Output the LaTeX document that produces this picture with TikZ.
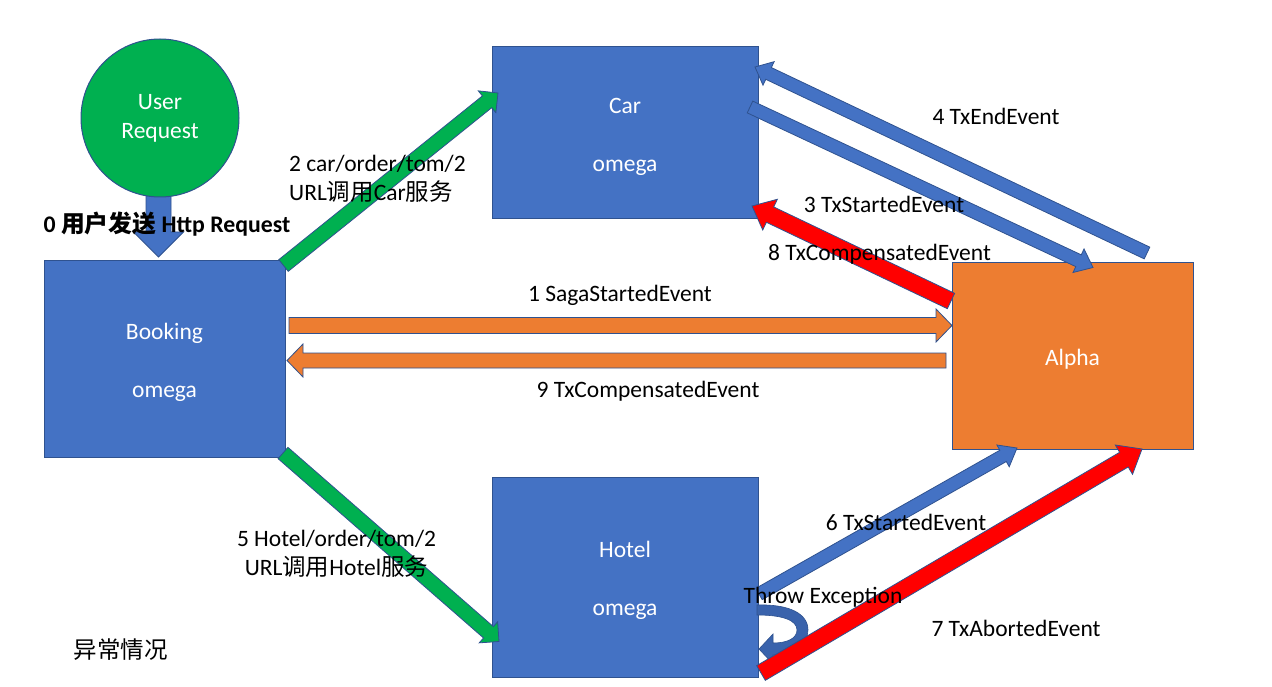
\documentclass[tikz,border=0pt]{standalone}
\usepackage{fontspec}
\setmainfont{Carlito}
\newfontfamily\cjk{Noto Sans CJK SC}
\usetikzlibrary{calc}
\definecolor{obl}{HTML}{4472C4}
\definecolor{oln}{HTML}{2F528F}
\definecolor{ogr}{HTML}{00B050}
\definecolor{oor}{HTML}{ED7D31}
\definecolor{ored}{HTML}{FF0000}
\definecolor{ocurv}{HTML}{3A63AC}
\newcommand\blockarrow[6]{%
  \draw[#1] let \p1=($(#3)-(#2)$), \n1={atan2(\y1,\x1)} in
   ($(#2)+(\n1+90:#4)$) -- ($(#3)+(\n1+180:#6)+(\n1+90:#4)$) -- ($(#3)+(\n1+180:#6)+(\n1+90:#5)$) -- (#3) -- ($(#3)+(\n1+180:#6)+(\n1-90:#5)$) -- ($(#3)+(\n1+180:#6)+(\n1-90:#4)$) -- ($(#2)+(\n1-90:#4)$) -- cycle;}
\newcommand\tstrut{\rule{0pt}{23pt}}
\begin{document}
\begin{tikzpicture}[x=1pt,y=-1pt,
  box/.style={draw=oln, line width=1pt, fill=obl, text=white, inner sep=0pt, align=center,
    font=\fontsize{23.5}{58}\selectfont},
  lbl/.style={inner sep=0pt, align=center, text=black, font=\fontsize{23.5}{28.7}\selectfont},
  barblue/.style={draw=oln, line width=0.8pt, fill=obl, line join=miter},
  bargreen/.style={draw=oln, line width=0.8pt, fill=ogr},
  barorange/.style={draw=oln, line width=0.8pt, fill=oor},
  barred/.style={draw=oln, line width=0.8pt, fill=ored},
  curvarrow/.style={draw=oln, line width=0.6pt, fill=ocurv}]
\useasboundingbox[fill=white] (0,0) rectangle (1272,687);

% boxes
\node[box, minimum width=241pt, minimum height=196pt] (booking) at (164.5,359) {\tstrut Booking\\omega};
\node[box, minimum width=266pt, minimum height=172pt] (car) at (625,133) {\tstrut Car\\omega};
\node[box, minimum width=266pt, minimum height=200pt] (hotel) at (625,577) {\tstrut Hotel\\omega};
\node[box, fill=oor, minimum width=241pt, minimum height=186pt] (alpha) at (1072.5,356) {\tstrut Alpha};

% arrow end points
\coordinate (u1) at (158.5,185);   \coordinate (u2) at (158.5,257);
\coordinate (g1a) at (283.5,265.5); \coordinate (g1b) at (498,93);
\coordinate (g2a) at (283,453);   \coordinate (g2b) at (499,641.5);
\coordinate (o1a) at (289,325.5); \coordinate (o1b) at (952,325.5);
\coordinate (o9a) at (946,360.5); \coordinate (o9b) at (287,360.5);
\coordinate (b3a) at (750,107);   \coordinate (b3b) at (1093,267.5);
\coordinate (b4a) at (1147,253);  \coordinate (b4b) at (755,67);
\coordinate (r8a) at (951,301);   \coordinate (r8b) at (752,206);
\coordinate (b6a) at (759,594);   \coordinate (b6b) at (1017,448);
\coordinate (r7a) at (761,673);   \coordinate (r7b) at (1142,449);

% user request
\blockarrow{barblue}{u1}{u2}{12.5pt}{25pt}{25pt}
\node[draw=oln, line width=1pt, circle, fill=ogr, minimum size=158pt, inner sep=0pt,
  text=white, align=center, font=\fontsize{23.5}{29}\selectfont] (user) at (160,118) {User\\Request};

% block arrows
\blockarrow{bargreen}{g1a}{g1b}{7.5pt}{14pt}{14pt}
\blockarrow{bargreen}{g2a}{g2b}{7.5pt}{14pt}{14pt}
\blockarrow{barorange}{o1a}{o1b}{8pt}{16.5pt}{16pt}
\blockarrow{barorange}{o9a}{o9b}{7.5pt}{16.5pt}{16pt}
\blockarrow{barblue}{b3a}{b3b}{6.5pt}{13pt}{16pt}
\blockarrow{barblue}{b4a}{b4b}{6.5pt}{13pt}{15pt}
\blockarrow{barred}{r8a}{r8b}{8.5pt}{17pt}{20pt}
\blockarrow{barblue}{b6a}{b6b}{6.5pt}{12.5pt}{16pt}

% throw exception curved arrow
\draw[curvarrow] (757,605) .. controls (790,604) and (808,614) .. (808,630)
  .. controls (808,645) and (792,655) .. (773,655) -- (773,664) -- (759,649) -- (773,634) -- (773,643)
  .. controls (788,643) and (797,638) .. (797,630)
  .. controls (797,620) and (782,615) .. (757,615) -- cycle;

\blockarrow{barred}{r7a}{r7b}{8.5pt}{17pt}{21pt}

% labels
\node[lbl, font=\fontsize{23.8}{28.7}\selectfont\bfseries] (l0) at (167,224) {0 {\cjk 用户发送} Http Request};
\node[lbl, align=left, anchor=west] (l2) at (289,178.5) {2 car/order/tom/2\\URL{\cjk 调用}Car{\cjk 服务}};
\node[lbl] (l5) at (336.5,554) {5 Hotel/order/tom/2\\URL{\cjk 调用}Hotel{\cjk 服务}};
\node[lbl] (l4) at (996,116) {4 TxEndEvent};
\node[lbl] (l3) at (884,204.5) {3 TxStartedEvent};
\node[lbl] (l8) at (879.5,254.5) {8 TxCompensatedEvent};
\node[lbl] (l1) at (620,295) {1 SagaStartedEvent};
\node[lbl] (l9) at (648,391) {9 TxCompensatedEvent};
\node[lbl] (l6) at (906,522) {6 TxStartedEvent};
\node[lbl] (lt) at (823,597.5) {Throw Exception};
\node[lbl] (l7) at (1016,628.5) {7 TxAbortedEvent};
\node[lbl] (lx) at (120.5,650) {\cjk 异常情况};
\end{tikzpicture}
\end{document}
